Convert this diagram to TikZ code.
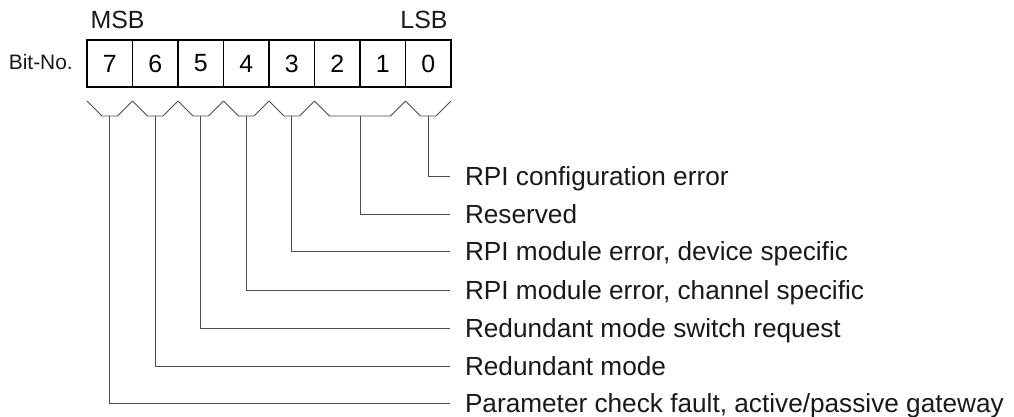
\documentclass[tikz,border=0pt]{standalone}
\usepackage{fontspec}
\setmainfont{Liberation Sans}
\usetikzlibrary{positioning}
\tikzset{
  bitcell/.style={draw=black, line width=1.6bp, minimum width=45.5bp, minimum height=47bp,
    inner sep=0pt, font=\fontsize{25}{30}\selectfont},
  brace/.style={draw=black!70, line width=0.9bp},
  lead/.style={draw=black!70, line width=0.9bp},
  bitlabel/.style={anchor=west, inner sep=0pt, outer xsep=15bp, text height=19bp,
    text depth=0pt, font=\fontsize{26.3}{31}\selectfont, text=black!90},
  headtext/.style={inner sep=0pt, font=\fontsize{25}{30}\selectfont, text=black!90}
}
\begin{document}
\begin{tikzpicture}[x=1bp, y=-1bp]
      \useasboundingbox (0,0) rectangle (1014,416);
      % Bit cells
      \foreach \b [count=\i from 0] in {7,...,0}
        \node[bitcell] (b\b) at ({109.75+45.5*\i},63.5) {\b};
      % Head texts
      \node[headtext] (msb) at (117.5,20) {MSB};
      \node[headtext] (lsb) at (424,20) {LSB};
      \node[headtext, anchor=east, font=\fontsize{21}{26}\selectfont] (bitno) at (73,62) {Bit-No.};
      % Braces under the cells
      \foreach \l/\r/\n in {87/132.5/s7, 132.5/178/s6, 178/223.5/s5, 223.5/269/s4,
                            269/314.5/s3, 314.5/405.5/s21, 405.5/451/s0} {
        \draw[brace] (\l,101) -- ++(15,15) -- ({\r-15},116) -- (\r,101);
        \coordinate (\n) at ({(\l+\r)/2},116);
      }
      % Meaning of the bits
      \node[bitlabel] (l0) at (450,176) {RPI configuration error};
      \node[bitlabel] (l1) at (450,214) {Reserved};
      \node[bitlabel] (l2) at (450,251) {RPI module error, device specific};
      \node[bitlabel] (l3) at (450,290) {RPI module error, channel specific};
      \node[bitlabel] (l4) at (450,328) {Redundant mode switch request};
      \node[bitlabel] (l5) at (450,366) {Redundant mode};
      \node[bitlabel] (l6) at (450,403) {Parameter check fault, active/passive gateway};
      % Leads from the braces
      \foreach \s/\t in {s0/l0, s21/l1, s3/l2, s4/l3, s5/l4, s6/l5, s7/l6}
        \draw[lead] (\s) |- (\t);
    \end{tikzpicture}
\end{document}
